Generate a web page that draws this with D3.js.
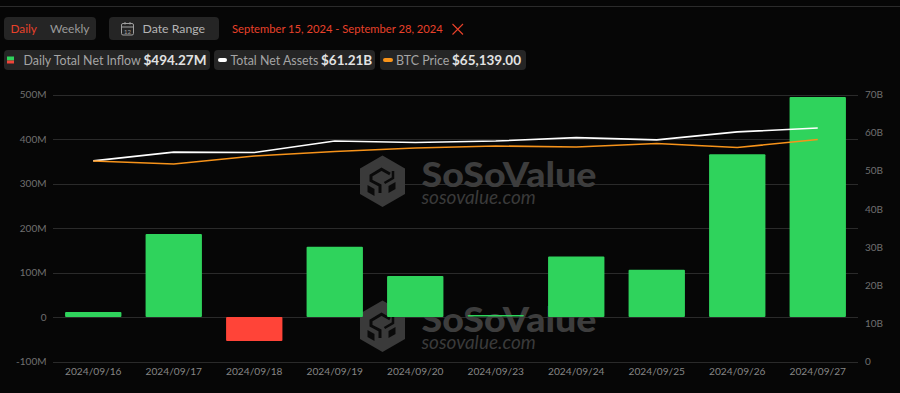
<!DOCTYPE html>
<html><head><meta charset="utf-8">
<script src="https://cdn.jsdelivr.net/npm/d3@7"></script>
<style>html,body{margin:0;padding:0;background:#060606}svg{display:block}text{font-family:Lato,sans-serif}</style>
</head><body><svg id="c" width="900" height="393"></svg>
<script>
const dates=["2024/09/16","2024/09/17","2024/09/18","2024/09/19","2024/09/20","2024/09/23","2024/09/24","2024/09/25","2024/09/26","2024/09/27"];
const inflow=[11.5,186.5,-54,158,92,4.5,136,106,366,494.27];
const assets=[52.6,54.9,54.8,57.8,57.4,57.8,58.7,58.1,60.2,61.21];
const btc=[58200,57230,59810,61260,62390,63040,62720,63850,62560,65139];
const leftTicks=[-100,0,100,200,300,400,500];
const rightTicks=[0,10,20,30,40,50,60,70];
const svg=d3.select("#c");
const x=d3.scaleBand().domain(dates).range([53,858]).paddingInner(0.3).paddingOuter(0.15);
const yL=d3.scaleLinear().domain([-100,500]).range([361.5,94.5]);
const yR=d3.scaleLinear().domain([0,70]).range([361.5,94.5]);
const yP=d3.scaleLinear().domain([-6500,79660]).range([361.5,94.5]);
const cx=d=>x(d)+x.bandwidth()/2;
svg.append("rect").attr("width",900).attr("height",393).attr("fill","#060606");
svg.append("line").attr("x1",0).attr("x2",900).attr("y1",6.5).attr("y2",6.5).attr("stroke","#2b2b2b");

function pill(a,b,t,h){svg.append("rect").attr("x",a).attr("y",t).attr("width",b-a).attr("height",h).attr("rx",4).attr("fill","#252525");}
function txt(s,a,y,fill,size,w){return svg.append("text").attr("x",a).attr("y",y).attr("fill",fill).attr("font-size",size).attr("font-weight",w||400).text(s);}
pill(4,96,17,23);pill(109,219,17,23);
txt("Daily",10.5,33.3,"#e8412a",11.8);
txt("Weekly",50,33.3,"#9a9a9a",12);
txt("Date Range",142.5,33.3,"#b4b4b4",12.3);
const cal=svg.append("g").attr("fill","none").attr("stroke","#a0a0a0").attr("stroke-width",1);
cal.append("rect").attr("x",121.5).attr("y",23.5).attr("width",12).attr("height",11.5).attr("rx",1.5);
cal.append("path").attr("d","M121.5 27H133.5M125 22V24.5M130 22V24.5");
svg.append("text").attr("x",127.5).attr("y",33.5).attr("text-anchor","middle").attr("fill","#a0a0a0").attr("font-size",6).text("12");
txt("September 15, 2024 - September 28, 2024",232,33,"#e8412a",11.2);
svg.append("path").attr("d","M452.5 24L463 34.5M463 24L452.5 34.5").attr("stroke","#e8412a").attr("stroke-width",1.1);

pill(4,210,50,20);pill(214,375,50,20);pill(380,526,50,20);
svg.append("rect").attr("x",7).attr("y",56.5).attr("width",7).attr("height",4).attr("fill","#2fd35c");
svg.append("rect").attr("x",7).attr("y",60.5).attr("width",7).attr("height",3).attr("fill","#f0443a");
svg.append("rect").attr("x",218).attr("y",58).attr("width",9).attr("height",4).attr("rx",2).attr("fill","#ffffff");
svg.append("rect").attr("x",383).attr("y",58).attr("width",10).attr("height",4).attr("rx",2).attr("fill","#f7931a");
txt("Daily Total Net Inflow",23.5,64.5,"#a4a4a4",12.4);
txt("$494.27M",143.5,64.5,"#e2e2e2",13.5,700);
txt("Total Net Assets",230.5,64.5,"#a4a4a4",12.4);
txt("$61.21B",321,64.5,"#e2e2e2",13.5,700);
txt("BTC Price",396,64.5,"#a4a4a4",12.4);
txt("$65,139.00",452,64.5,"#e2e2e2",13.5,700);

svg.append("g").selectAll("line").data(leftTicks).join("line")
 .attr("x1",53).attr("x2",858).attr("y1",d=>Math.round(yL(d))+.5).attr("y2",d=>Math.round(yL(d))+.5)
 .attr("stroke","#2a2a2a");

function mark(tx,ty){
 const g=svg.append("g").attr("transform",`translate(${tx},${ty})`);
 g.append("path").attr("d","M23 .5L45.5 13.5V39L23 52L.5 39V13.5Z").attr("fill","#3a3a3a");
 g.append("path").attr("d","M30.5 19L22 14.3L11.5 20.5V25.7L20.5 30.5V38").attr("fill","none").attr("stroke","#0a0a0a").attr("stroke-width",3);
 g.append("path").attr("d","M8 30L15 34V41L8 37ZM29 31L36 27V34L29 38Z").attr("fill","#0a0a0a");
 g.append("path").attr("d","M33.5 16L33.5 23L25 28").attr("fill","none").attr("stroke","#0a0a0a").attr("stroke-width",2.5);
 g.append("text").attr("x",62).attr("y",32).attr("fill","#3d3d3d").attr("font-size",35).attr("font-weight",900).attr("font-family","Inter,Lato,sans-serif")
  .attr("textLength",175).attr("lengthAdjust","spacingAndGlyphs").text("SoSoValue");
 g.append("text").attr("x",62).attr("y",49).attr("fill","#3a3a3a").attr("font-size",19).attr("font-style","italic").text("sosovalue.com");
}
mark(359.5,155);mark(359.5,300);

svg.append("g").selectAll("rect").data(dates).join("rect")
 .attr("x",d=>x(d)).attr("width",x.bandwidth())
 .attr("y",(d,i)=>Math.min(yL(inflow[i]),yL(0)))
 .attr("height",(d,i)=>i===5?1.5:Math.abs(yL(inflow[i])-yL(0)))
 .attr("rx",1)
 .attr("fill",(d,i)=>inflow[i]<0?"#ff4438":"#2fd35c");

const lineOf=(s,arr)=>d3.line().x((d,i)=>cx(dates[i])).y(d=>s(d))(arr);
svg.append("path").attr("d",lineOf(yR,assets)).attr("fill","none").attr("stroke","#ffffff").attr("stroke-width",1.6);
svg.append("path").attr("d",lineOf(yP,btc)).attr("fill","none").attr("stroke","#f7931a").attr("stroke-width",1.6);

const axisFont=g=>{g.select(".domain").remove();g.selectAll(".tick line").remove();g.selectAll("text").attr("fill","#707070").attr("font-size",10).style("font-family","Lato,sans-serif");};
svg.append("g").attr("transform","translate(46.5,0)").call(d3.axisLeft(yL).tickValues(leftTicks).tickSize(0).tickPadding(0).tickFormat(d=>d===0?"0":d+"M")).call(axisFont);
svg.append("g").attr("transform","translate(865,0)").call(d3.axisRight(yR).tickValues(rightTicks).tickSize(0).tickPadding(0).tickFormat(d=>d===0?"0":d+"B")).call(axisFont);
svg.append("g").attr("transform","translate(0,361.5)").call(d3.axisBottom(x).tickSize(0).tickPadding(6)).call(g=>{axisFont(g);g.selectAll("text").attr("fill","#858585").attr("font-size",10.2);});
</script></body></html>
